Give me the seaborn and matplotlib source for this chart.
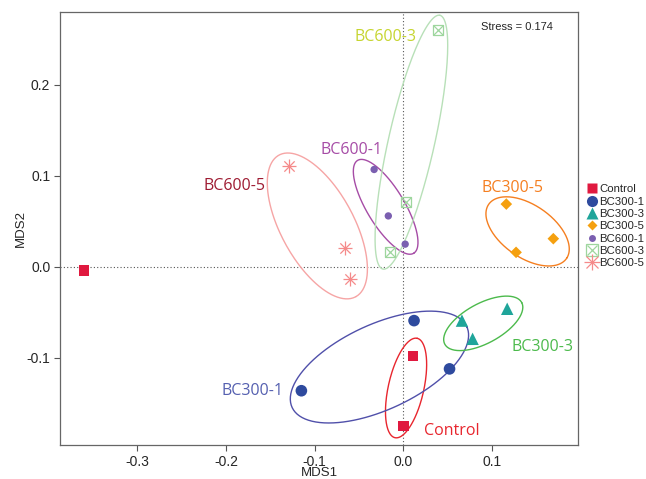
import numpy as np
import pandas as pd
import matplotlib
matplotlib.use("Agg")
import matplotlib.pyplot as plt
import seaborn as sns
from matplotlib.lines import Line2D
from matplotlib.legend_handler import HandlerTuple

# NMDS site scores
groups = ["Control", "BC300-1", "BC300-3", "BC300-5", "BC600-1", "BC600-3", "BC600-5"]
control_x = [-0.360, 0.011, 0.000]
control_y = [-0.004, -0.098, -0.175]
bc300_1_x = [-0.115, 0.012, 0.052]
bc300_1_y = [-0.136, -0.059, -0.112]
bc300_3_x = [0.066, 0.078, 0.117]
bc300_3_y = [-0.059, -0.079, -0.046]
bc300_5_x = [0.116, 0.127, 0.169]
bc300_5_y = [0.069, 0.016, 0.031]
bc600_1_x = [-0.033, -0.017, 0.002]
bc600_1_y = [0.107, 0.056, 0.025]
bc600_3_x = [0.039, 0.003, -0.015]
bc600_3_y = [0.260, 0.071, 0.016]
bc600_5_x = [-0.129, -0.066, -0.060]
bc600_5_y = [0.111, 0.021, -0.013]

# ellipse fits: centre x, centre y, semi-major, semi-minor, angle (deg)
ell_cx = [0.003, -0.027, 0.090, 0.140, -0.020, 0.009, -0.097]
ell_cy = [-0.133, -0.110, -0.062, 0.039, 0.066, 0.137, 0.045]
ell_a = [0.056, 0.108, 0.049, 0.053, 0.060, 0.143, 0.089]
ell_b = [0.020, 0.047, 0.022, 0.029, 0.021, 0.026, 0.041]
ell_ang = [77, 24, 27.6, -33.6, -58, 77, -60.6]

label_x = [0.023, -0.135, 0.122, 0.088, -0.094, 0.015, -0.155]
label_y = [-0.180, -0.136, -0.088, 0.087, 0.128, 0.253, 0.089]
stress = 0.174

df = pd.DataFrame({
    "MDS1": control_x + bc300_1_x + bc300_3_x + bc300_5_x + bc600_1_x + bc600_3_x + bc600_5_x,
    "MDS2": control_y + bc300_1_y + bc300_3_y + bc300_5_y + bc600_1_y + bc600_3_y + bc600_5_y,
    "Group": [g for g in groups for _ in range(3)],
})

pt_colors = ["#e0193f", "#2e4a9e", "#1fa59a", "#f5a00f", "#7b5fb0", "#9ed69e", "#f58a8a"]
ell_colors = ["#e8262e", "#5050aa", "#4cba4c", "#f57f20", "#a64ca6", "#b8e0b8", "#f6a5a5"]
lab_colors = ["#e8262e", "#5560b0", "#4cba4c", "#f57f20", "#a64ca6", "#c6d530", "#9e1b32"]
markers = ["s", "o", "^", "D", "o", "s", "+"]
sizes = [55, 70, 80, 35, 28, 55, 110]

sns.set_style("white")
plt.rcParams["font.family"] = ["Liberation Sans", "DejaVu Sans"]

fig = plt.figure(figsize=(6.46, 4.79), dpi=100)
ax = fig.add_axes([0.093, 0.071, 0.802, 0.904])

ax.axhline(0, color="#555555", lw=0.8, ls=(0, (1, 2)), zorder=1)
ax.axvline(0, color="#555555", lw=0.8, ls=(0, (1, 2)), zorder=1)

# ellipses
t = np.linspace(0, 2 * np.pi, 200)
for i in range(len(groups)):
    th = np.deg2rad(ell_ang[i])
    ex = ell_cx[i] + ell_a[i] * np.cos(t) * np.cos(th) - ell_b[i] * np.sin(t) * np.sin(th)
    ey = ell_cy[i] + ell_a[i] * np.cos(t) * np.sin(th) + ell_b[i] * np.sin(t) * np.cos(th)
    ax.plot(ex, ey, color=ell_colors[i], lw=1.0, zorder=2)

# points
for i, g in enumerate(groups):
    sub = df[df["Group"] == g]
    if g == "BC600-3":
        sns.scatterplot(data=sub, x="MDS1", y="MDS2", marker="s", s=sizes[i],
                        facecolor="none", edgecolor=pt_colors[i], linewidth=0.9, ax=ax, zorder=3)
        sns.scatterplot(data=sub, x="MDS1", y="MDS2", marker="x", s=sizes[i] * 0.8,
                        color=pt_colors[i], linewidth=0.9, ax=ax, zorder=3)
    elif g == "BC600-5":
        sns.scatterplot(data=sub, x="MDS1", y="MDS2", marker="+", s=sizes[i],
                        color=pt_colors[i], linewidth=0.9, ax=ax, zorder=3)
        sns.scatterplot(data=sub, x="MDS1", y="MDS2", marker="x", s=sizes[i] * 0.5,
                        color=pt_colors[i], linewidth=0.9, ax=ax, zorder=3)
    else:
        sns.scatterplot(data=sub, x="MDS1", y="MDS2", marker=markers[i], s=sizes[i],
                        color=pt_colors[i], edgecolor="none", ax=ax, zorder=3)

# group labels
aligns = ["left", "right", "left", "left", "left", "right", "right"]
for i, g in enumerate(groups):
    ax.text(label_x[i], label_y[i], g, color=lab_colors[i], fontsize=11.5,
            family=["Open Sans", "DejaVu Sans"], ha=aligns[i], va="center", zorder=4)

ax.text(0.1285, 0.264, f"Stress = {stress}", fontsize=8, ha="center", va="center")

ax.set_xlim(-0.387, 0.197)
ax.set_ylim(-0.1956, 0.280)
ax.set_xticks([-0.3, -0.2, -0.1, 0.0, 0.1])
ax.set_yticks([-0.1, 0.0, 0.1, 0.2])
ax.set_xticklabels(["-0.3", "-0.2", "-0.1", "0.0", "0.1"])
ax.set_yticklabels(["-0.1", "0.0", "0.1", "0.2"])
ax.tick_params(axis="both", length=4, width=0.8, color="#555555", labelsize=10, pad=3,
               bottom=True, left=True)
for sp in ax.spines.values():
    sp.set_color("#666666")
    sp.set_linewidth(0.9)
ax.set_xlabel("MDS1", fontsize=9.5, labelpad=-1)
ax.set_ylabel("MDS2", fontsize=9.5, labelpad=0)

# legend outside on the right (combined markers overlaid)
handles = []
for i, g in enumerate(groups):
    if g == "BC600-3":
        h = (Line2D([], [], ls="none", marker="s", ms=8, mfc="none", mec=pt_colors[i], mew=0.9),
             Line2D([], [], ls="none", marker="x", ms=7, color=pt_colors[i], mew=0.9))
    elif g == "BC600-5":
        h = (Line2D([], [], ls="none", marker="+", ms=11, color=pt_colors[i], mew=0.9),
             Line2D([], [], ls="none", marker="x", ms=8, color=pt_colors[i], mew=0.9))
    else:
        ms = {"s": 7, "o": 8 if g == "BC300-1" else 5, "^": 9, "D": 5}[markers[i]]
        h = Line2D([], [], ls="none", marker=markers[i], ms=ms, color=pt_colors[i], mec="none")
    handles.append(h)
ax.legend(handles, groups, loc="center left", bbox_to_anchor=(1.0, 0.505), frameon=False,
          fontsize=8.2, handletextpad=0.15, handlelength=1.0, labelspacing=0.2, borderpad=0.2,
          borderaxespad=0.5, handler_map={tuple: HandlerTuple(ndivide=1)})

fig.savefig("out.png", dpi=100)
